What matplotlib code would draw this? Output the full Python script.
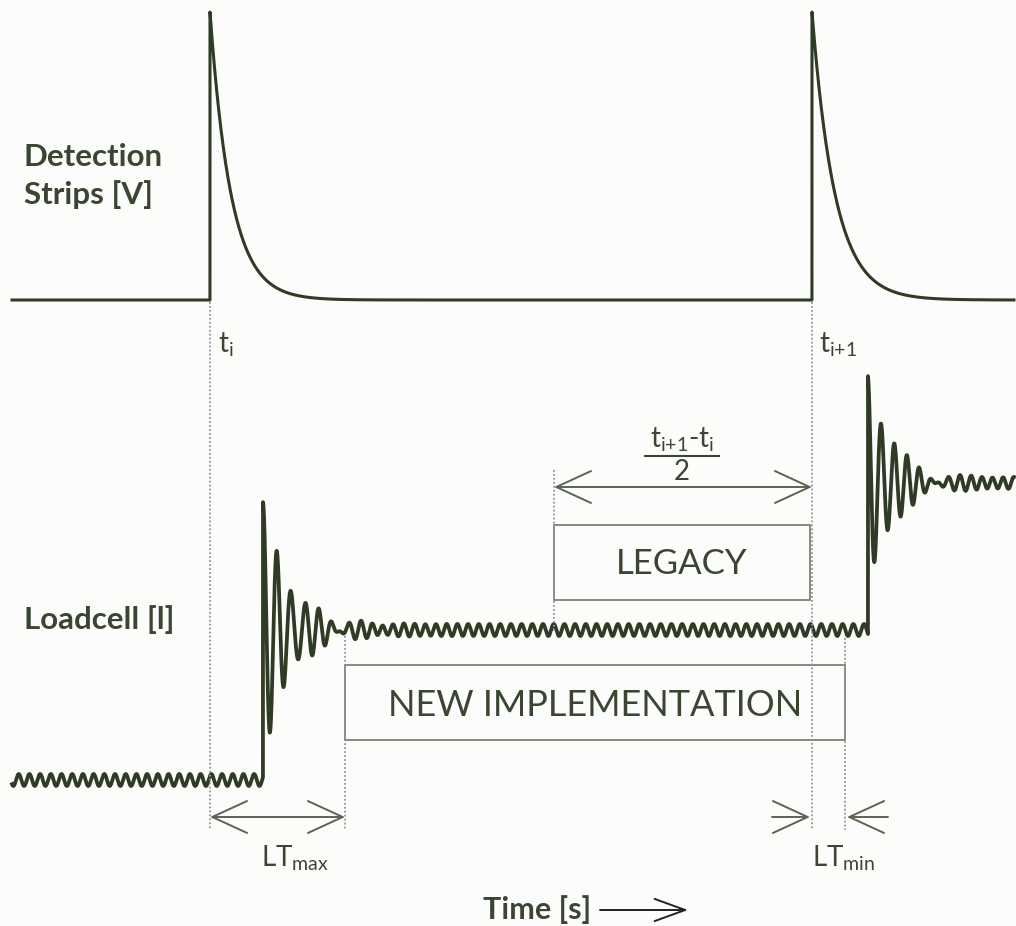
import numpy as np
import matplotlib.pyplot as plt

plt.rcParams['font.family'] = ['Lato', 'DejaVu Sans']
plt.rcParams['mathtext.default'] = 'regular'

# canvas units: x = time (px-like), y = screen units, inverted (0 = top)
x_start, x_end = 12, 1014

# Detection strips trace
strip_base = 300
strip_times = [210, 812]        # t_i, t_i+1
strip_heights = [288, 288]
strip_tau = [21, 23]

# Loadcell trace
cell_levels = [780, 630, 483]   # low, middle, high level
cell_steps = [263, 868]         # step onsets
ring_amp = [125, 111]
ring_period = [14, 13]
ring_tau = [27, 24]
ripple_amp = 6
ripple_period = 10.7

# annotation positions
lt_max = (210, 345)
lt_min = (812, 845)
legacy_span = (554, 812)

trace_col = '#2f3b24'
text_col = '#3a4632'
box_col = '#7a8472'
dot_col = '#8b97a3'
arrow_col = '#5a6354'

fig = plt.figure(figsize=(10.16, 9.26), dpi=100, facecolor='#fcfcfa')
ax = fig.add_axes([0, 0, 1, 1])
ax.set_xlim(0, 1016)
ax.set_ylim(926, 0)
ax.axis('off')

x = np.arange(x_start, x_end, 0.05)

# detection strips
y_strip = np.full_like(x, strip_base, dtype=float)
for ts, h, tau in zip(strip_times, strip_heights, strip_tau):
    m = x >= ts
    y_strip[m] -= h * np.exp(-(x[m] - ts) / tau)
ax.plot(x, y_strip, color=trace_col, lw=2.2, solid_joinstyle='round')

# loadcell
y_cell = np.full_like(x, cell_levels[0], dtype=float)
for i, ts in enumerate(cell_steps):
    m = x >= ts
    t = x[m] - ts
    y_cell[m] = cell_levels[i + 1] - ring_amp[i] * np.exp(-t / ring_tau[i]) * np.cos(2 * np.pi * t / ring_period[i])
y_cell += ripple_amp * np.sin(2 * np.pi * x / ripple_period)
ax.plot(x, y_cell, color=trace_col, lw=2.7, solid_joinstyle='round')

# dotted guides
dots = [(210, 302, 830), (812, 302, 830), (554, 470, 632), (345, 636, 830), (845, 638, 830)]
for xd, y0, y1 in dots:
    ax.plot([xd, xd], [y0, y1], color=dot_col, lw=1.3, ls=(0, (1, 1.2)))

# boxes
ax.add_patch(plt.Rectangle((554, 525), 256, 75, fill=False, ec=box_col, lw=1.3))
ax.add_patch(plt.Rectangle((345, 665), 500, 75, fill=False, ec=box_col, lw=1.3))
ax.text(682, 564, 'LEGACY', fontsize=25, color=text_col, ha='center', va='center')
ax.text(595, 705, 'NEW IMPLEMENTATION', fontsize=26, color=text_col, ha='center', va='center')

# dimension arrows
aprops = dict(arrowstyle='<->,head_length=2.5,head_width=1.15', color=arrow_col, lw=1.4,
              shrinkA=0, shrinkB=0)
ax.annotate('', xy=(lt_max[1], 817), xytext=(lt_max[0], 817), arrowprops=aprops)
ax.annotate('', xy=(legacy_span[1], 487), xytext=(legacy_span[0], 487), arrowprops=aprops)
sprops = dict(arrowstyle='->,head_length=2.5,head_width=1.15', color=arrow_col, lw=1.4,
              shrinkA=0, shrinkB=0)
ax.annotate('', xy=(lt_min[0] - 2, 817), xytext=(772, 817), arrowprops=sprops)
ax.annotate('', xy=(lt_min[1] + 2, 817), xytext=(888, 817), arrowprops=sprops)

# labels
ax.text(24, 157, 'Detection', fontsize=22.5, fontweight='bold', color=text_col, va='center')
ax.text(24, 195, 'Strips [V]', fontsize=22.5, fontweight='bold', color=text_col, va='center')
ax.text(24, 620, 'Loadcell [l]', fontsize=22.5, fontweight='bold', color=text_col, va='center')

ax.text(218, 345, 't$_i$', fontsize=20, color=text_col, va='center')
ax.text(819, 345, 't$_{i{+}1}$', fontsize=20, color=text_col, va='center')
ax.text(682, 440, 't$_{i{+}1}$-t$_i$', fontsize=20, color=text_col, ha='center', va='center')
ax.plot([645, 719], [456, 456], color=text_col, lw=1.5)
ax.text(682, 472, '2', fontsize=20, color=text_col, ha='center', va='center')
ax.text(295, 858, 'LT$_{max}$', fontsize=20, color=text_col, ha='center', va='center')
ax.text(844, 858, 'LT$_{min}$', fontsize=20, color=text_col, ha='center', va='center')

ax.text(537, 910, 'Time [s]', fontsize=22, fontweight='bold', color=text_col, ha='center', va='center')
ax.annotate('', xy=(688, 910), xytext=(600, 910),
            arrowprops=dict(arrowstyle='->,head_length=2.2,head_width=0.8', color='#222222', lw=1.4,
                            shrinkA=0, shrinkB=0))

fig.savefig('out.png', dpi=100, facecolor=fig.get_facecolor())
